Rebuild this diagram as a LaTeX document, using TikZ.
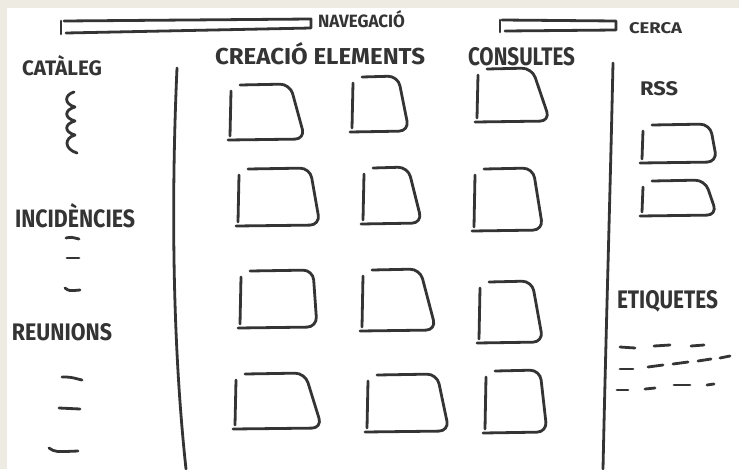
\documentclass[tikz,border=0pt]{standalone}
\usepackage{graphicx}
\usepackage{fontspec}
\setmainfont{Fira Sans}
\definecolor{pencol}{RGB}{52,52,52}
\definecolor{beige}{RGB}{238,235,226}
\tikzset{
  pen/.style={draw=pencol, line width=2.8pt, line cap=round, line join=round},
  lbl/.style={inner sep=0pt, outer sep=0pt, text=pencol, anchor=south west, font=\bfseries},
}
\newcommand\skbox[5]{%
  \draw[pen] (#1+1,#2+7) -- (#1,#5-3);
  \draw[pen,rounded corners=10pt] (#1+10,#2+1) -- (#3,#2) -- (#4,#5) -- (#1-2,#5+1);
}
\newcommand\hw[3]{\resizebox{#1pt}{#2pt}{#3}}
\begin{document}
\begin{tikzpicture}[x=1pt,y=-1pt]
\useasboundingbox (0,0) rectangle (739,469);
\fill[beige] (0,0) rectangle (739,469);
\fill[white] (7,8) rectangle (739,469);

% top bars
\draw[pen] (61,21) -- (61,34);
\draw[pen] (64,21) -- (311,19) -- (311,28) -- (66,33);
\node[lbl] (nav) at (318,28) {\hw{87}{17}{NAVEGACIÓ}};
\draw[pen] (500,20) -- (500,32);
\draw[pen] (502,20) -- (616,21) -- (616,30) -- (505,31);
\node[lbl] (cerca) at (629,34) {\hw{53}{11}{CERCA}};

% headings
\node[lbl] (creacio) at (215,65) {\hw{210}{22}{CREACIÓ ELEMENTS}};
\node[lbl] (consultes) at (468,66) {\hw{107}{18}{CONSULTES}};
\node[lbl] (cataleg) at (22,76) {\hw{80}{20}{CATÀLEG}};
\node[lbl] (incid) at (15,228) {\hw{120}{24}{INCIDÈNCIES}};
\node[lbl] (reunions) at (12,341) {\hw{100}{17}{REUNIONS}};
\node[lbl] (rss) at (640,96) {\hw{38}{14}{RSS}};
\node[lbl] (etiq) at (617,312) {\hw{101}{18}{ETIQUETES}};

% column dividers
\draw[pen] (177,68) .. controls (172,180) and (171,330) .. (186,469);
\draw[pen] (613,63) .. controls (610,200) and (606,330) .. (603,469);

% catalog squiggle
\draw[pen] (74,92) .. controls (64,95) and (64,104) .. (75,107)
  .. controls (64,110) and (64,118) .. (75,121)
  .. controls (64,124) and (64,132) .. (75,135)
  .. controls (64,138) and (64,149) .. (77,153);

% incidencies dashes
\draw[pen] (66,238) .. controls (71,237) .. (79,239);
\draw[pen] (67,258) -- (79,258);
\draw[pen] (65,288) .. controls (69,291) .. (80,290);

% reunions dashes
\draw[pen] (62,377) .. controls (70,377) .. (82,380);
\draw[pen] (59,408) -- (80,409);
\draw[pen] (49,448) .. controls (55,452) .. (78,451);

% grid of boxes
\skbox{230}{84}{290}{305}{139}
\skbox{352}{76}{398}{409}{131}
\skbox{477}{68}{532}{550}{121}
\skbox{238}{168}{310}{320}{225}
\skbox{363}{167}{408}{422}{223}
\skbox{474}{168}{533}{543}{230}
\skbox{240}{270}{313}{317}{327}
\skbox{362}{269}{420}{436}{330}
\skbox{479}{281}{532}{543}{342}
\skbox{235}{373}{305}{322}{428}
\skbox{367}{374}{437}{449}{431}
\skbox{485}{370}{540}{547}{432}

% RSS boxes
\skbox{642}{124}{710}{717}{162}
\skbox{642}{180}{705}{717}{215}

% etiquetes dashes
\draw[pen] (620,347) -- (635,348);
\draw[pen] (654,346) -- (670,345);
\draw[pen] (691,346) -- (704,345);
\draw[pen] (620,369) -- (633,369);
\draw[pen] (648,367) -- (663,365);
\draw[pen] (673,364) -- (688,362);
\draw[pen] (698,361) -- (711,359);
\draw[pen] (720,358) -- (730,356);
\draw[pen] (617,390) -- (628,390);
\draw[pen] (645,389) -- (655,388);
\draw[pen] (674,385) -- (690,385);
\draw[pen] (707,385) -- (714,384);
\end{tikzpicture}
\end{document}
